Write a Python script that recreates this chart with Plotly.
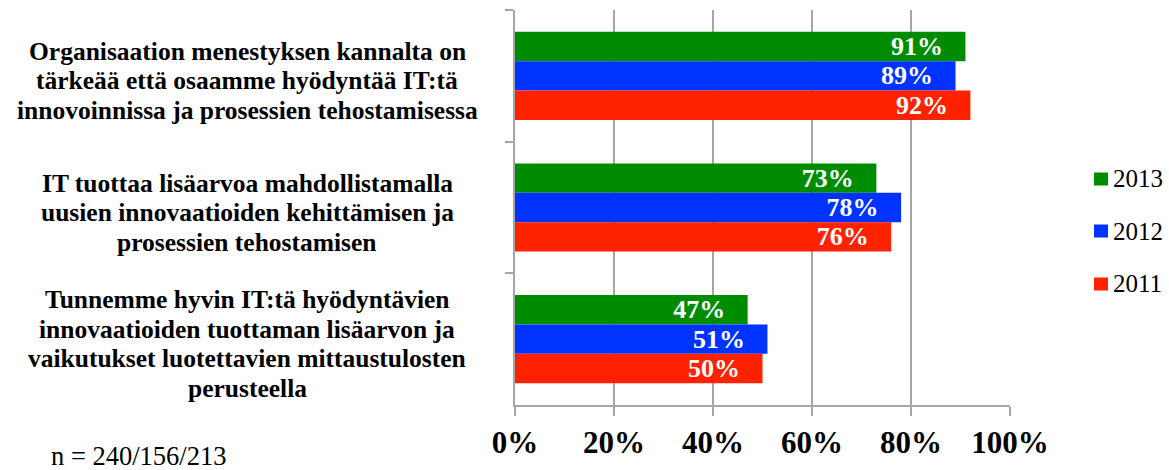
import plotly.graph_objects as go

categories = [
    "Organisaation menestyksen kannalta on<br>tärkeää että osaamme hyödyntää IT:tä<br>innovoinnissa ja prosessien tehostamisessa",
    "IT tuottaa lisäarvoa mahdollistamalla<br>uusien innovaatioiden kehittämisen ja<br>prosessien tehostamisen",
    "Tunnemme hyvin IT:tä hyödyntävien<br>innovaatioiden tuottaman lisäarvon ja<br>vaikutukset luotettavien mittaustulosten<br>perusteella",
]
years = ["2013", "2012", "2011"]
values = {
    "2013": [91, 73, 47],
    "2012": [89, 78, 51],
    "2011": [92, 76, 50],
}
colors = {"2013": "#008C00", "2012": "#0033FF", "2011": "#FF2200"}
x_ticks = [0, 20, 40, 60, 80, 100]
note = "n = 240/156/213"

W, H = 1169, 470
L, R, T, B = 515, 159, 10, 65
PW, PH = W - L - R, H - T - B
SERIF = "Liberation Serif"


def px_x(p):
    return (p - L) / PW


def px_y(p):
    return (H - B - p) / PH


fig = go.Figure()
for yr in years:
    fig.add_trace(go.Bar(
        y=categories, x=values[yr], name=yr, orientation="h",
        marker=dict(color=colors[yr], line=dict(width=0)),
        text=[f"<b>{v}%</b>\u00a0\u00a0\u00a0" for v in values[yr]],
        textposition="inside", insidetextanchor="end", constraintext="none",
        textfont=dict(family=SERIF, size=26, color="white"),
        hoverinfo="skip",
    ))

# category labels, one annotation per line for tight line spacing
LINE = 29.5
for c in categories:
    lines = c.split("<br>")
    n = len(lines)
    for k, ln in enumerate(lines):
        off = (k - (n - 1) / 2) * LINE + 5
        fig.add_annotation(
            x=px_x(247), xref="paper", y=c, yref="y", yshift=-off,
            text=f"<b>{ln}</b>", showarrow=False,
            xanchor="center", yanchor="middle",
            font=dict(family=SERIF, size=25.5, color="black"),
        )

# legend (drawn manually to match the original's compact layout)
legend_y = [179, 231, 284]
for yr, yc in zip(years, legend_y):
    fig.add_shape(
        type="rect", xref="paper", yref="paper",
        x0=px_x(1094), x1=px_x(1108), y0=px_y(yc - 6.5), y1=px_y(yc + 6.5),
        fillcolor=colors[yr], line=dict(width=0),
    )
    fig.add_annotation(
        x=px_x(1111), xref="paper", y=px_y(yc), yref="paper",
        text=yr, showarrow=False, xanchor="left", yanchor="middle",
        font=dict(family=SERIF, size=25, color="black"),
    )

fig.add_annotation(
    x=px_x(49), xref="paper", y=px_y(456), yref="paper",
    text=note, showarrow=False, xanchor="left", yanchor="middle",
    font=dict(family=SERIF, size=26.5, color="black"),
)

fig.update_layout(
    width=W, height=H,
    margin=dict(l=L, r=R, t=T, b=B, autoexpand=False),
    barmode="group", bargap=0.33, bargroupgap=0,
    plot_bgcolor="white", paper_bgcolor="white",
    showlegend=False,
    xaxis=dict(
        range=[0, 100], tickvals=x_ticks, ticktext=[f"<b>{v}%</b>" for v in x_ticks],
        showgrid=True, gridcolor="#A6A6A6", gridwidth=1.5,
        showline=True, linecolor="#A6A6A6", linewidth=1.5,
        ticks="outside", ticklen=9, tickcolor="#A6A6A6", tickwidth=1.5,
        tickfont=dict(family=SERIF, size=31, color="black"),
        zeroline=False, fixedrange=True, automargin=False,
    ),
    yaxis=dict(
        categoryorder="array", categoryarray=categories, autorange="reversed",
        showticklabels=False, showgrid=False,
        showline=True, linecolor="#A6A6A6", linewidth=1.5,
        ticks="outside", ticklen=8, tickcolor="#A6A6A6", tickwidth=1.5,
        tickson="boundaries", fixedrange=True, automargin=False,
    ),
)

fig.write_html("out.html", config={"displayModeBar": False},
               post_script="document.body.style.margin='0px';")
